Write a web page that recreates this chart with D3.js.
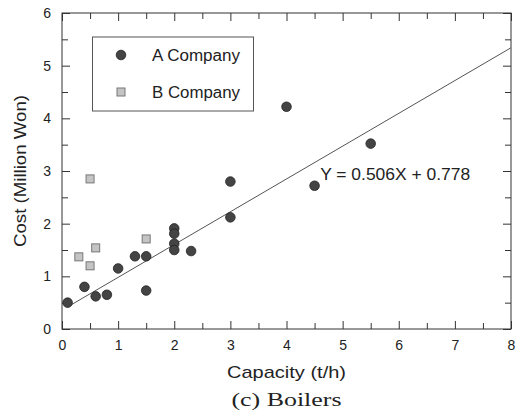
<!DOCTYPE html>
<html>
<head>
<meta charset="utf-8">
<script src="https://cdn.jsdelivr.net/npm/d3@7.9.0/dist/d3.min.js"></script>
<style>
  html, body { margin: 0; padding: 0; background: #fff; }
  svg { display: block; font-family: Arial, "Liberation Sans", sans-serif; }
</style>
</head>
<body>
<svg id="chart" width="529" height="420"></svg>
<script>
// A Company (circles)
const aCapacity = [0.1, 0.4, 0.6, 0.8, 1.0, 1.3, 1.5, 1.5, 2.0, 2.0, 2.0, 2.0, 2.3, 3.0, 3.0, 4.0, 4.5, 5.5];
const aCost     = [0.5, 0.8, 0.62, 0.65, 1.15, 1.38, 1.38, 0.73, 1.91, 1.81, 1.62, 1.5, 1.48, 2.12, 2.8, 4.22, 2.72, 3.52];
// B Company (squares)
const bCapacity = [0.3, 0.5, 0.5, 0.6, 1.5];
const bCost     = [1.37, 2.85, 1.2, 1.54, 1.71];
// regression line as drawn
const fitCapacity = [0.1, 8];
const fitCost     = [0.42, 5.34];

const xTicks = [0, 1, 2, 3, 4, 5, 6, 7, 8];
const yTicks = [0, 1, 2, 3, 4, 5, 6];

const svg = d3.select("#chart");
const margin = { top: 13, right: 18, bottom: 91, left: 62 };
const width  = +svg.attr("width")  - margin.left - margin.right;
const height = +svg.attr("height") - margin.top  - margin.bottom;

const g = svg.append("g")
    .attr("transform", `translate(${margin.left},${margin.top})`);

const x = d3.scaleLinear().domain([0, 8]).range([0, width]);
const y = d3.scaleLinear().domain([0, 6]).range([height, 0]);

const ink = "#333";
const minorX = d3.range(0.5, 8, 1);
const minorY = d3.range(0.5, 6, 1);

// frame
g.append("rect")
    .attr("width", width).attr("height", height)
    .attr("fill", "none").attr("stroke", ink).attr("stroke-width", 1);

function styleAxis(sel) {
    sel.select(".domain").remove();
    sel.selectAll("line").attr("stroke", ink);
    sel.selectAll("text").attr("fill", "#222").attr("font-size", 14)
        .attr("font-family", "Arial, 'Liberation Sans', sans-serif");
}

// bottom axis (inward ticks)
g.append("g").attr("transform", `translate(0,${height})`)
    .call(d3.axisBottom(x).tickValues(xTicks).tickFormat(d3.format("d")).tickSize(-8).tickPadding(11))
    .call(styleAxis);
g.append("g").attr("transform", `translate(0,${height})`)
    .call(d3.axisBottom(x).tickValues(minorX).tickFormat("").tickSize(-6))
    .call(styleAxis);
// top axis
g.append("g")
    .call(d3.axisTop(x).tickValues(xTicks).tickFormat("").tickSize(-8))
    .call(styleAxis);
g.append("g")
    .call(d3.axisTop(x).tickValues(minorX).tickFormat("").tickSize(-6))
    .call(styleAxis);
// left axis
g.append("g")
    .call(d3.axisLeft(y).tickValues(yTicks).tickFormat(d3.format("d")).tickSize(-8).tickPadding(11))
    .call(styleAxis);
g.append("g")
    .call(d3.axisLeft(y).tickValues(minorY).tickFormat("").tickSize(-6))
    .call(styleAxis);
// right axis
g.append("g").attr("transform", `translate(${width},0)`)
    .call(d3.axisRight(y).tickValues(yTicks).tickFormat("").tickSize(-8))
    .call(styleAxis);
g.append("g").attr("transform", `translate(${width},0)`)
    .call(d3.axisRight(y).tickValues(minorY).tickFormat("").tickSize(-6))
    .call(styleAxis);

// regression line
const fitData = fitCapacity.map((c, i) => ({ c, v: fitCost[i] }));
g.append("path")
    .datum(fitData)
    .attr("fill", "none")
    .attr("stroke", "#555")
    .attr("stroke-width", 1)
    .attr("d", d3.line().x(d => x(d.c)).y(d => y(d.v)));

// B company squares
const side = 8;
g.selectAll(".sq")
    .data(bCapacity.map((c, i) => ({ c, v: bCost[i] })))
    .enter().append("rect")
    .attr("class", "sq")
    .attr("x", d => x(d.c) - side / 2)
    .attr("y", d => y(d.v) - side / 2)
    .attr("width", side).attr("height", side)
    .attr("fill", "#c4c4c4").attr("stroke", "#777").attr("stroke-width", 1);

// A company circles
g.selectAll(".pt")
    .data(aCapacity.map((c, i) => ({ c, v: aCost[i] })))
    .enter().append("circle")
    .attr("class", "pt")
    .attr("cx", d => x(d.c))
    .attr("cy", d => y(d.v))
    .attr("r", 4.8)
    .attr("fill", "#444").attr("stroke", "#222").attr("stroke-width", 0.8);

// equation
g.append("text")
    .attr("x", x(4.6)).attr("y", y(2.83))
    .attr("font-size", 16).attr("fill", "#222")
    .attr("textLength", 150).attr("lengthAdjust", "spacingAndGlyphs")
    .text("Y = 0.506X + 0.778");

// legend
const legend = svg.append("g");
legend.append("rect")
    .attr("x", 92.5).attr("y", 37).attr("width", 161).attr("height", 74)
    .attr("fill", "#fff").attr("stroke", "#555").attr("stroke-width", 1);
legend.append("circle")
    .attr("cx", 121).attr("cy", 55).attr("r", 4.8)
    .attr("fill", "#444").attr("stroke", "#222").attr("stroke-width", 0.8);
legend.append("rect")
    .attr("x", 117).attr("y", 88).attr("width", side).attr("height", side)
    .attr("fill", "#c4c4c4").attr("stroke", "#777").attr("stroke-width", 1);
legend.append("text")
    .attr("x", 152).attr("y", 61)
    .attr("font-size", 16).attr("fill", "#222")
    .attr("textLength", 88).attr("lengthAdjust", "spacingAndGlyphs")
    .text("A Company");
legend.append("text")
    .attr("x", 152).attr("y", 98)
    .attr("font-size", 16).attr("fill", "#222")
    .attr("textLength", 88).attr("lengthAdjust", "spacingAndGlyphs")
    .text("B Company");

// axis titles
svg.append("text")
    .attr("x", margin.left + width / 2).attr("y", 378)
    .attr("text-anchor", "middle")
    .attr("font-size", 17).attr("fill", "#222")
    .attr("textLength", 119).attr("lengthAdjust", "spacingAndGlyphs")
    .text("Capacity (t/h)");
svg.append("text")
    .attr("transform", `translate(26,${margin.top + height / 2}) rotate(-90)`)
    .attr("text-anchor", "middle")
    .attr("font-size", 17).attr("fill", "#222")
    .attr("textLength", 152).attr("lengthAdjust", "spacingAndGlyphs")
    .text("Cost (Million Won)");

// caption
svg.append("text")
    .attr("x", margin.left + width / 2).attr("y", 406)
    .attr("text-anchor", "middle")
    .attr("font-family", "'Liberation Serif', 'DejaVu Serif', serif")
    .attr("font-size", 18).attr("fill", "#222")
    .attr("textLength", 110).attr("lengthAdjust", "spacingAndGlyphs")
    .text("(c)  Boilers");
</script>
</body>
</html>
